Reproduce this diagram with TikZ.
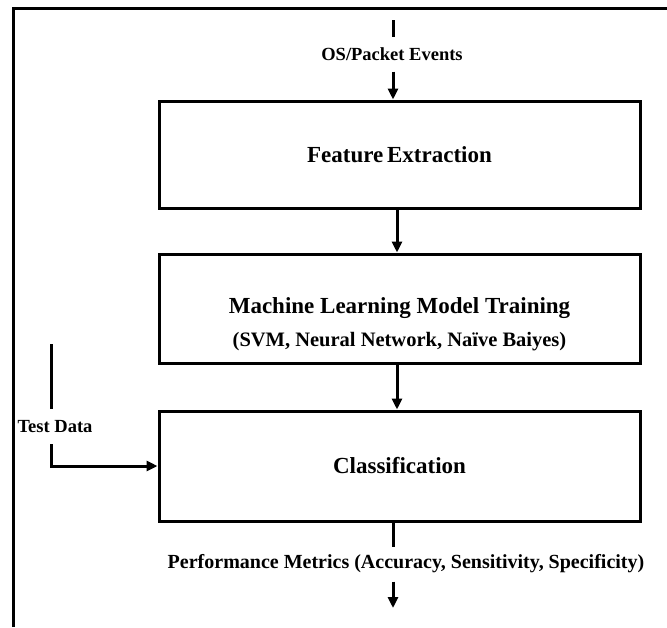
\documentclass[tikz,border=0pt]{standalone}
\usepackage{fontspec}
\setmainfont{Liberation Serif}
\usetikzlibrary{positioning,arrows.meta,calc}

\begin{document}
\begin{tikzpicture}[x=1pt,y=-1pt,line width=3pt,
  box/.style={draw,rectangle,minimum width=481pt,inner sep=0pt,align=center,font=\bfseries\fontsize{23}{27}\selectfont},
  lbl/.style={inner sep=0pt,minimum height=32pt,font=\bfseries\fontsize{18.5}{21}\selectfont},
  flow/.style={-{Triangle[length=11pt,width=10pt]}}]
\useasboundingbox (0,0) rectangle (667,627);
% outer frame
\draw (13.5,627) -- (13.5,8.5) -- (667,8.5);
% processing stages
\node[box,minimum height=107pt] (fe) at (399.5,154.5) {Feature\hspace{-2pt} Extraction};
\node[box,minimum height=109pt] (ml) at (399.5,308.5) {};
\node[align=center,font=\bfseries\fontsize{23}{27}\selectfont] (mltxt) at ($(ml.center)+(0,16)$) {Machine Learning Model Training\\[6pt]{\fontsize{20.5}{24}\selectfont(SVM, Neural Network, Na\"ive Baiyes)}};
\node[box,minimum height=110pt] (cls) at (399.5,466) {Classification};
% inputs and outputs
\coordinate (src) at (393,20);
\node[lbl] (os) at (392,54) {OS/Packet Events};
\coordinate (tdtop) at (51,344);
\node[lbl] (td) at (55,426.5) {Test Data};
\coordinate (clsout) at (393,521);
\node[lbl,font=\bfseries\fontsize{20}{23}\selectfont] (pm) at (406,564) {Performance Metrics (Accuracy, Sensitivity, Specificity)};
\coordinate (sink) at (393,608);
% connectors
\draw (src) -- (src |- os.north);
\draw[flow] (src |- os.south) -- (src |- fe.north);
\draw[flow] ($(fe.south)+(-2.5,0)$) -- ($(ml.north)+(-2.5,0)$);
\draw[flow] ($(ml.south)+(-2.5,0)$) -- ($(cls.north)+(-2.5,0)$);
\draw (tdtop) -- (tdtop |- td.north);
\draw[flow] (tdtop |- td.south) |- (cls.west);
\draw (clsout) -- (clsout |- pm.north);
\draw[flow] (clsout |- pm.south) -- (sink);
\end{tikzpicture}
\end{document}
